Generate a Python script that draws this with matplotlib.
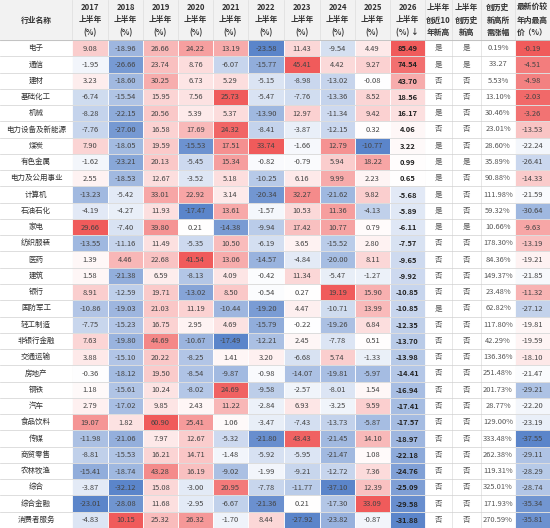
import numpy as np
import matplotlib
matplotlib.use("Agg")
import matplotlib.pyplot as plt
from matplotlib.colors import LinearSegmentedColormap, TwoSlopeNorm

plt.rcParams['font.family'] = ['Noto Sans CJK SC', 'DejaVu Sans']

industries = ["电子","通信","建材","基础化工","机械","电力设备及新能源","煤炭","有色金属","电力及公用事业",
              "计算机","石油石化","家电","纺织服装","医药","建筑","银行","国防军工","轻工制造","非银行金融",
              "交通运输","房地产","钢铁","汽车","食品饮料","传媒","商贸零售","农林牧渔","综合","综合金融","消费者服务"]
years = ["2017","2018","2019","2020","2021","2022","2023","2024","2025","2026"]
y2017 = [9.08,-1.95,3.23,-6.74,-8.28,-7.76,7.90,-1.62,2.55,-13.23,-4.19,29.66,-13.55,1.39,1.58,8.91,-10.86,-7.75,7.63,3.88,-0.36,1.18,2.79,19.07,-11.98,-8.81,-15.41,-3.87,-23.01,-4.83]
y2018 = [-18.96,-26.66,-18.60,-15.54,-22.15,-27.00,-18.05,-23.21,-18.53,-5.42,-4.27,-7.40,-11.16,4.46,-21.38,-12.59,-19.03,-15.23,-19.80,-15.10,-18.12,-15.61,-17.02,1.82,-21.06,-15.53,-18.74,-32.12,-28.08,10.15]
y2019 = [26.66,23.74,30.25,15.95,20.56,16.58,19.59,20.13,12.67,33.01,11.93,39.80,11.49,22.68,6.59,19.71,21.03,16.75,44.69,20.22,19.50,10.24,9.85,60.90,7.97,16.21,43.28,15.08,11.68,25.32]
y2020 = [24.22,8.76,6.73,7.56,5.39,17.69,-15.53,-5.45,-3.52,22.92,-17.47,0.21,-5.35,41.54,-8.13,-13.02,11.19,2.95,-10.67,-8.25,-8.54,-8.02,2.43,25.41,12.67,14.71,16.19,-3.00,-2.95,26.32]
y2021 = [13.19,-6.07,5.29,25.73,5.37,24.32,17.51,15.34,5.18,3.14,13.61,-14.38,10.50,13.06,4.09,8.50,-10.44,4.69,-17.49,1.41,-9.87,24.69,11.22,1.06,-5.32,-1.48,-9.02,20.95,-6.67,-1.70]
y2022 = [-23.58,-15.77,-5.15,-5.47,-13.90,-8.41,33.74,-0.82,-10.25,-20.34,-1.57,-9.94,-6.19,-14.57,-0.42,-0.54,-19.20,-15.79,-12.21,3.20,-0.98,-9.58,-2.84,-3.47,-21.80,-5.92,-1.99,-7.78,-21.36,8.44]
y2023 = [11.43,45.41,-8.98,-7.76,12.97,-3.87,-1.66,-0.79,6.16,32.27,10.53,17.42,3.65,-4.84,11.34,0.27,4.47,-0.22,2.45,-6.68,-14.07,-2.57,6.93,-7.43,43.43,-5.95,-9.21,-11.77,0.21,-27.92]
y2024 = [-9.54,4.42,-13.02,-13.36,-11.34,-12.15,12.79,5.94,9.99,-21.62,11.36,10.77,-15.52,-20.00,-5.47,19.19,-10.71,-19.26,-7.78,5.74,-19.81,-8.01,-3.25,-13.73,-21.45,-21.47,-12.72,-37.10,-17.30,-23.82]
y2025 = [4.49,9.27,-0.08,8.52,9.42,0.32,-10.77,18.22,2.23,9.82,-4.13,0.79,2.80,8.11,-1.27,15.90,13.99,6.84,0.51,-1.33,-5.97,1.54,9.59,-5.87,14.10,1.08,7.36,12.39,33.09,-0.87]
y2026 = [85.49,74.54,43.70,18.56,16.17,4.06,3.22,0.99,0.65,-5.68,-5.89,-6.11,-7.57,-9.65,-9.92,-10.85,-10.85,-12.35,-13.70,-13.98,-14.41,-16.94,-17.41,-17.57,-18.97,-22.18,-24.76,-25.09,-29.58,-31.88]
new_high_10y = ["是","是","否","否","是","否","是","是","是","是","是","是","否","否","否","否","是","否","否","否","否","否","否","否","否","否","否","否","否","否"]
new_high_all = ["是","是","否","否","否","否","否","是","否","否","否","是","否","否","否","否","否","否","否","否","否","否","否","否","否","否","否","否","否","否"]
need_rise = ["0.19%","33.27","5.53%","13.10%","30.46%","23.01%","28.60%","35.89%","90.88%","111.98%","59.32%","10.66%","178.30%","84.36%","149.37%","23.48%","62.82%","117.80%","42.29%","136.36%","251.48%","201.73%","28.77%","129.00%","333.48%","262.38%","119.31%","325.01%","171.93%","270.59%"]
vs_high = [-0.19,-4.51,-4.98,-2.03,-3.26,-13.53,-22.24,-26.41,-14.33,-21.59,-30.64,-9.63,-13.19,-19.21,-21.85,-11.32,-27.12,-19.81,-19.59,-18.10,-21.47,-29.21,-22.20,-23.19,-37.55,-29.11,-28.29,-28.74,-35.34,-35.81]

headers = ["行业名称"] + [f"{y}\n上半年\n(%)" for y in years[:-1]] + ["2026\n上半年\n(%) ↓","上半年\n创近10\n年新高","上半年\n创历史\n新高","创历史\n新高所\n需涨幅","最新价较\n年内最高\n价（%）"]
edges = [0,72,108,143,178,213,248,284,320,355,390,425,452,481,515,550]

fig = plt.figure(figsize=(5.5,5.28), dpi=100)
ax = fig.add_axes([0,0,1,1])
ax.set_xlim(0,550); ax.set_ylim(528,0); ax.axis('off')

cmap = LinearSegmentedColormap.from_list("bwr2", ["#4a78c4","#ffffff","#ee4a4a"])
H0 = 40
rh = (528-H0)/len(industries)

ax.add_patch(plt.Rectangle((0,0),550,H0,color="#f2f2f2",zorder=0))
for j,h in enumerate(headers):
    xc=(edges[j]+edges[j+1])/2
    ax.text(xc,H0/2,h,ha='center',va='center',fontsize=5.6,fontweight='bold',color="#333333",linespacing=1.5)

cols = [y2017,y2018,y2019,y2020,y2021,y2022,y2023,y2024,y2025,y2026]
for ci,col in enumerate(cols + [vs_high]):
    j = ci+1 if ci<10 else 14
    v = np.array(col)
    if ci==10:
        norm = TwoSlopeNorm(vcenter=-21.0, vmin=v.min(), vmax=v.max())
    else:
        norm = TwoSlopeNorm(vcenter=0.0, vmin=min(v.min(),-1.0), vmax=max(v.max(),1.0))
    for i,val in enumerate(v):
        y0 = H0+i*rh
        c = cmap(float(norm(val))*0.9+0.05)
        ax.add_patch(plt.Rectangle((edges[j],y0),edges[j+1]-edges[j],rh,facecolor=c,edgecolor='white',lw=0.6))
        ax.text((edges[j]+edges[j+1])/2,y0+rh/2+0.5,f"{val:.2f}",ha='center',va='center',fontsize=5.4,
                color="#222222" if ci==9 else "#444444",fontweight='bold' if ci==9 else 'normal')

for i,name in enumerate(industries):
    yc = H0+i*rh+rh/2
    ax.text(36,yc,name,ha='center',va='center',fontsize=5.4,color="#333333")
    ax.text((edges[11]+edges[12])/2,yc,new_high_10y[i],ha='center',va='center',fontsize=5.4,color="#555555")
    ax.text((edges[12]+edges[13])/2,yc,new_high_all[i],ha='center',va='center',fontsize=5.4,color="#555555")
    ax.text((edges[13]+edges[14])/2,yc,need_rise[i],ha='center',va='center',fontsize=5.4,color="#555555")
    ax.plot([0,550],[H0+(i+1)*rh]*2,color="#d0d0d0",lw=0.5)
for x in edges[1:-1]:
    ax.plot([x,x],[0,528],color="#dddddd",lw=0.5,zorder=0.5)
ax.plot([0,550],[H0,H0],color="#bbbbbb",lw=0.6)
fig.savefig("out.png",dpi=100)
